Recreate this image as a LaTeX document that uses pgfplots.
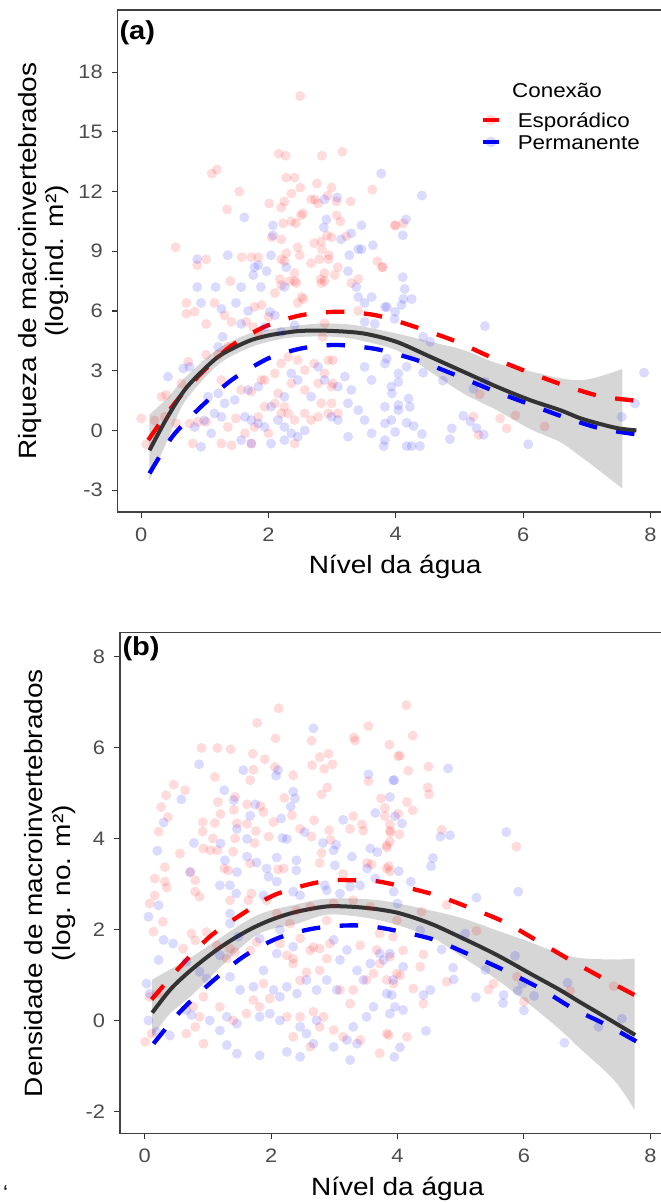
\documentclass[border=0pt]{standalone}
\usepackage{fontspec}
\setmainfont{Liberation Sans}[FakeStretch=1.12]
\usepackage{pgfplots}
\usepackage{pgfplotstable}
\pgfplotsset{compat=1.18}
\usepgfplotslibrary{fillbetween}

% scatter data, panel (a): riqueza
\pgfplotstableread{
x y
2.50 16.8
2.16 13.9
2.27 13.8
2.84 13.8
3.16 14.0
1.11 12.9
1.19 13.1
2.28 12.7
2.41 12.7
2.76 12.4
1.54 12.0
2.36 11.9
2.50 12.2
2.99 12.2
3.63 12.1
2.01 11.4
2.20 11.2
2.25 11.5
2.67 11.6
2.73 11.6
2.78 11.4
2.93 11.8
3.07 11.5
3.29 11.5
1.35 11.1
2.23 10.4
2.36 10.5
2.43 10.4
2.51 10.8
2.54 10.9
3.07 10.8
3.13 10.5
3.98 10.3
2.05 9.7
2.20 9.6
2.92 9.8
2.99 9.7
3.22 9.75
0.54 9.2
1.02 8.6
0.88 8.3
1.58 8.7
1.73 8.7
1.84 8.7
2.46 9.2
2.72 9.4
2.83 9.5
2.28 8.9
2.20 8.6
2.25 8.5
2.49 8.8
2.67 8.4
2.80 8.6
2.94 8.6
2.84 9.1
2.95 8.8
3.09 8.2
3.71 8.5
3.79 8.2
2.88 7.9
2.82 7.6
3.04 7.8
2.41 7.9
2.33 7.5
2.44 7.4
2.18 7.6
1.40 7.5
3.41 7.6
0.71 6.4
0.84 5.96
0.71 5.86
1.15 6.4
1.31 5.78
1.42 5.45
1.02 5.35
1.78 6.2
1.89 6.3
1.65 5.45
1.76 5.2
1.84 4.9
2.00 5.7
2.10 6.9
2.20 7.3
2.41 7.5
2.52 6.7
2.46 6.4
2.55 6.6
2.83 7.4
2.88 7.5
3.30 7.4
3.41 6.0
2.88 5.38
2.85 4.7
1.36 4.2
1.21 3.8
1.02 3.8
0.74 3.45
0.63 2.36
0.32 1.69
0.39 1.78
0.00 0.6
0.08 -0.7
0.21 0.5
0.37 0.68
0.55 0.35
0.76 0.35
0.89 0.43
0.81 -0.66
1.02 0.43
1.26 -0.66
1.42 -0.75
1.36 0.17
1.49 0.6
1.63 -0.15
1.84 0.68
1.94 1.19
2.10 1.36
2.20 0.85
2.25 1.19
2.15 1.86
2.31 0.85
2.41 0.52
2.57 0.85
2.67 0.52
2.78 0.68
2.94 0.85
2.83 1.36
2.99 1.36
3.09 0.85
1.94 2.53
2.10 2.86
2.20 3.36
2.31 3.69
2.46 3.53
2.57 3.03
2.72 3.36
2.88 2.86
2.41 -0.66
1.73 -0.66
1.26 2.53
1.78 0.17
2.00 -0.15
2.36 2.36
2.57 2.03
2.78 2.36
2.99 2.2
1.57 2.03
1.73 1.95
1.89 2.53
2.94 3.53
3.01 3.53
3.01 2.36
4.00 10.3
4.12 10.4
3.79 8.2
5.32 1.82
5.22 0.7
5.64 0.6
5.74 0.1
5.88 0.75
6.34 0.2
5.30 -0.23
}\ared

\pgfplotstableread{
x y
3.77 12.9
1.62 10.7
2.88 11.6
3.08 11.7
2.91 10.6
2.87 10.2
2.07 10.3
2.07 9.8
3.46 10.3
3.30 9.9
3.14 9.6
3.64 9.3
3.41 9.1
3.46 9.1
3.27 8.8
0.88 8.6
1.36 8.8
2.04 8.8
1.84 8.3
1.78 8.2
1.97 8.0
1.76 7.8
2.28 8.2
3.25 8.0
0.88 7.2
1.17 7.2
1.57 7.2
1.88 7.2
2.25 7.2
3.38 7.2
0.94 6.4
1.26 6.1
1.49 6.4
1.68 6.0
2.02 5.95
2.10 5.78
1.57 5.35
1.94 5.2
2.20 4.95
2.41 5.28
3.41 6.7
3.51 6.4
3.62 6.7
3.83 6.2
3.98 5.6
3.51 5.45
3.67 5.35
0.42 2.70
0.66 3.11
0.76 3.19
1.28 4.7
1.21 4.2
1.05 1.69
1.21 1.86
1.15 0.85
1.26 0.68
1.31 1.36
1.47 1.53
1.68 2.03
1.84 2.2
1.63 0.68
1.73 0.52
1.84 0.35
1.94 0.17
2.04 1.19
2.15 0.52
2.25 0.17
2.36 -0.15
2.46 -0.32
2.57 0.0
1.73 -0.66
1.57 -0.49
2.04 -0.66
2.25 -0.49
2.25 1.69
2.36 2.86
2.46 2.53
2.67 1.69
2.78 3.19
2.88 2.53
3.09 2.2
3.20 2.7
3.30 2.03
3.51 3.19
3.62 2.53
3.83 3.36
3.93 2.2
4.04 2.86
3.25 1.36
3.41 1.02
3.51 0.52
3.62 -0.15
3.83 -0.49
3.25 -0.32
3.09 0.52
2.99 0.68
3.83 1.19
3.93 0.52
4.04 1.02
0.84 0.17
0.99 0.5
1.10 -0.15
0.94 -0.83
4.41 11.8
4.16 10.6
4.11 9.8
4.11 7.7
4.14 7.1
4.25 6.6
4.12 6.6
3.86 6.2
3.99 5.96
4.09 6.3
5.40 5.24
4.43 4.7
4.54 4.45
3.86 3.6
4.17 3.2
4.43 2.9
4.74 2.5
4.04 2.43
3.94 1.86
4.04 1.27
4.20 1.6
4.22 1.18
3.83 0.35
3.99 -0.08
4.17 0.38
4.28 0.22
4.41 -0.18
3.81 -0.79
4.17 -0.79
4.25 -0.79
4.38 -0.79
4.88 0.1
4.85 -0.44
5.06 0.73
5.17 0.45
5.27 0.11
5.38 -0.22
6.08 -0.7
5.40 2.44
5.22 2.1
7.55 0.68
7.76 1.35
7.90 2.9
}\ablue

% scatter data, panel (b): densidade
\pgfplotstableread{
x y
2.12 6.86
1.78 6.54
2.07 6.20
3.54 6.47
3.31 6.22
3.33 6.15
3.87 6.06
0.90 5.99
1.15 5.99
1.36 5.96
1.71 5.86
1.90 5.74
1.72 5.51
1.67 5.28
2.06 5.57
2.35 5.39
2.64 6.15
2.65 5.61
2.77 5.79
2.91 5.86
2.84 5.53
2.97 5.63
2.89 5.12
2.80 4.97
3.54 5.26
4.01 5.81
1.11 5.35
0.46 5.18
0.64 5.06
0.34 4.95
0.26 4.69
0.37 4.47
1.16 4.80
1.43 4.91
1.41 4.63
1.20 4.54
0.92 4.36
1.11 4.34
1.46 4.33
1.62 4.32
1.76 4.16
1.88 4.58
1.62 4.75
1.83 4.71
0.22 4.15
0.92 4.15
1.08 4.00
1.43 4.00
1.74 3.90
2.04 4.36
2.21 4.89
2.33 4.51
0.56 3.67
0.93 3.78
1.04 3.74
1.15 3.74
1.40 3.71
1.96 4.04
0.32 3.37
0.72 3.26
0.80 3.08
1.26 3.34
1.32 3.30
1.67 3.45
2.11 3.32
2.20 3.34
2.46 4.21
2.68 4.40
2.64 4.04
2.92 4.18
2.94 3.97
2.80 3.68
2.77 3.46
3.30 4.49
3.44 4.31
3.46 4.17
3.25 4.21
3.74 4.88
3.80 4.67
3.88 4.31
3.83 3.80
3.89 4.13
4.01 4.54
3.52 3.46
3.59 3.43
3.83 3.34
3.14 3.22
0.16 3.12
0.32 3.05
0.35 2.92
0.16 2.75
0.08 2.57
0.29 2.17
0.14 1.95
0.80 2.83
0.87 2.72
1.35 2.64
1.69 2.79
1.64 2.64
0.74 1.91
0.80 1.76
0.61 1.58
0.98 1.94
1.14 1.65
1.35 1.58
1.43 1.50
1.30 1.36
1.67 1.54
1.77 1.72
2.14 1.69
2.25 1.43
2.35 1.36
2.46 1.80
2.62 1.54
2.67 1.61
2.77 1.58
2.93 1.69
2.88 1.36
2.77 1.10
2.56 1.06
2.46 0.88
2.35 1.25
1.88 0.81
1.98 0.48
1.72 0.45
1.82 0.30
1.61 0.15
1.40 0.00
1.19 0.30
0.93 0.52
0.77 0.30
0.87 0.08
0.80 -0.14
0.93 -0.51
0.66 -0.29
0.01 -0.47
0.11 -0.29
0.08 0.52
0.22 0.59
2.25 0.08
2.46 0.08
2.67 0.19
2.83 0.08
2.99 -0.21
3.14 -0.36
2.77 -0.14
2.62 -0.58
2.35 -0.36
3.25 0.37
3.09 0.67
3.30 0.67
3.51 0.89
3.62 1.03
3.83 0.89
3.99 1.03
3.72 1.25
3.88 1.40
3.67 1.55
3.41 1.65
3.72 1.91
3.93 1.84
3.99 2.20
3.83 -0.29
3.72 -0.72
3.41 -0.43
2.99 2.57
3.30 2.64
3.57 2.50
2.88 2.20
2.62 2.50
2.09 2.35
2.30 2.13
1.93 2.64
2.40 2.42
4.14 6.93
4.24 6.26
4.04 5.82
4.17 5.49
4.49 5.58
4.48 5.12
4.50 4.97
4.15 4.80
4.24 4.62
3.80 4.49
3.88 4.17
4.03 4.09
3.83 3.85
3.88 3.93
4.70 4.19
5.88 3.82
3.86 3.39
3.88 3.28
4.78 2.54
4.38 2.39
5.25 1.97
4.09 1.54
4.41 1.45
4.36 1.18
4.04 0.99
3.94 0.81
4.25 0.70
4.41 0.37
4.15 -0.36
3.86 -0.32
4.78 0.85
5.52 0.81
5.44 0.68
5.89 0.96
6.00 0.41
6.73 0.65
7.42 0.75
}\bred

\pgfplotstableread{
x y
2.67 6.42
0.86 5.63
1.56 5.50
2.11 5.50
2.08 5.38
1.26 5.06
1.41 4.84
1.75 4.75
0.58 4.86
2.35 5.03
2.31 4.70
2.38 4.88
3.54 5.41
3.93 5.28
3.88 4.91
0.30 4.35
1.67 4.50
2.16 4.44
3.14 4.41
3.65 4.56
3.96 4.49
0.78 3.90
1.20 3.89
0.20 3.73
1.62 3.99
1.46 4.21
2.18 4.01
2.25 3.99
2.53 4.14
3.03 3.86
2.99 3.74
2.82 3.90
1.27 3.52
1.62 3.60
1.77 3.47
2.09 3.58
2.40 3.52
3.01 3.41
3.28 3.60
3.57 3.78
3.68 3.70
0.72 3.26
1.19 2.97
1.46 3.26
1.93 3.34
1.96 3.16
2.09 3.05
2.40 3.30
3.52 3.34
3.65 3.12
1.35 2.97
2.85 2.97
3.25 2.94
3.41 2.97
0.06 2.28
0.22 2.53
0.03 0.81
0.08 0.59
0.06 0.00
0.19 -0.25
0.30 1.77
0.45 1.69
0.22 1.33
1.45 2.79
1.88 2.75
2.35 2.83
2.46 2.75
2.88 2.86
3.09 2.79
1.35 2.35
1.35 2.13
1.48 1.84
1.82 1.80
2.14 1.99
2.35 1.62
2.09 1.47
1.35 0.96
1.51 0.67
1.72 0.74
1.88 1.10
2.04 0.67
2.14 0.52
2.25 0.74
2.41 0.59
2.56 0.89
2.72 0.67
2.88 0.89
3.04 0.67
1.03 0.00
1.19 -0.22
1.30 0.08
1.46 -0.07
1.82 0.08
1.98 0.15
2.14 0.00
2.46 -0.14
2.56 -0.29
2.72 0.00
1.30 -0.54
1.46 -0.73
1.82 -0.77
2.25 -0.69
2.46 -0.80
2.67 -0.51
2.99 -0.58
3.25 -0.87
3.36 -0.51
2.99 1.77
3.09 1.33
3.20 1.55
3.36 1.10
3.46 0.89
3.57 1.25
3.72 1.47
3.83 0.59
3.93 0.89
3.62 0.30
3.51 0.08
3.30 -0.14
3.20 -0.43
0.66 0.23
0.74 0.12
0.98 0.92
0.87 1.07
0.66 1.29
1.19 1.43
0.40 -0.33
4.80 5.54
3.95 5.28
4.07 4.33
4.68 4.04
4.83 4.07
5.72 4.14
4.56 3.57
4.53 3.39
4.02 3.28
3.94 2.83
4.21 3.05
5.91 2.83
5.25 2.70
4.00 2.57
4.36 1.98
4.70 1.56
5.07 1.91
4.88 1.16
4.89 0.90
4.52 0.67
4.41 0.56
4.09 1.18
3.88 1.47
3.78 1.33
3.91 0.56
4.09 0.23
3.96 0.30
3.88 0.15
4.45 -0.23
4.04 -0.59
3.95 -0.80
5.24 0.51
5.39 1.11
5.68 0.56
5.67 0.38
5.86 1.42
5.98 0.81
5.90 0.65
6.16 0.54
6.00 0.22
6.69 0.83
6.64 -0.49
7.18 -0.14
7.55 0.04
}\bblue

\pgfplotsset{
  panel/.style={
    scale only axis, width=555pt,
    axis line style={black!75, line width=1.1pt},
    tick style={black!80, line width=1.1pt},
    major tick length=6pt, tick align=outside,
    xtick pos=bottom, ytick pos=left,
    xtick={0,2,4,6,8}, xticklabels={0,2,4,6,8},
    ticklabel style={font=\fontsize{19.5}{20}\selectfont, text=black!70, inner sep=0pt},
    yticklabel style={anchor=east, xshift=-8.7pt},
    xticklabel style={anchor=north, yshift=-9.3pt},
    every axis x label/.style={at={(axis description cs:0.5,0)}, anchor=base, yshift=-62pt,
      font=\fontsize{25}{27.6}\selectfont},
    every axis y label/.style={rotate=90, anchor=center, align=center,
      font=\fontsize{25}{27.6}\selectfont},
    xlabel={Nível da água},
  },
  pts/.style={only marks, mark=*, mark size=5pt,
    mark options={fill=#1, draw opacity=0, fill opacity=0.14, line width=0pt}, forget plot},
  dsh/.style={#1, line width=4.3pt, dash pattern=on 18.5pt off 19.5pt, smooth, forget plot},
  fit/.style={black!80, line width=4pt, smooth, forget plot},
  key/.style={legend image code/.code={
    \path[fill=#1, fill opacity=0.14, draw opacity=0] (8.3pt,7.3pt) circle (5.5pt);
    \path[draw=#1, line width=4.3pt] (0pt,7.3pt) -- (16.6pt,7.3pt);}},
}

\begin{document}
\begin{tikzpicture}

% ---------- panel (a)
\begin{axis}[panel,
  at={(117.65pt,691pt)}, anchor=south west, height=502pt,
  xmin=-0.37, xmax=8.35, ymin=-4.1, ymax=21.12,
  ytick={-3,0,3,6,9,12,15,18}, yticklabels={-3,0,3,6,9,12,15,18},
  every axis y label/.append style={at={(axis description cs:-0.1336,0.5)}},
  ylabel={Riqueza de macroinvertebrados\\(log.ind. m²)},
  legend style={at={(axis description cs:0.6541,0.7962)}, anchor=north west,
    draw=none, fill=none, inner sep=0pt, outer sep=0pt,
    column sep=16.2pt, row sep=2.5pt, font=\fontsize{20}{22}\selectfont,
    cells={anchor=base west},
    nodes={inner sep=0pt, text height=15pt, text depth=4.5pt}},
]
\addplot[pts=red] table {\ared};
\addplot[pts=blue] table {\ablue};

\addplot[dsh=red] coordinates {(0.11,-0.49) (0.37,0.7) (0.63,1.77) (0.89,2.69) (1.13,3.45)
  (1.36,4.12) (1.65,4.72) (1.94,5.21) (2.23,5.55) (2.52,5.79) (2.83,5.92) (3.14,5.96)
  (3.48,5.88) (3.80,5.70) (4.38,5.12) (4.96,4.45) (5.48,3.70) (6.06,2.95) (6.63,2.28)
  (7.21,1.72) (7.78,1.49)};
\addplot[dsh=blue] coordinates {(0.13,-2.16) (0.33,-1.1) (0.53,-0.15) (0.94,1.19) (1.42,2.53)
  (1.94,3.53) (2.23,3.88) (2.52,4.12) (2.80,4.25) (3.09,4.29) (3.43,4.2) (3.76,4.04)
  (4.33,3.53) (4.90,2.83) (5.48,2.06) (6.06,1.36) (6.63,0.68) (7.21,0.10) (7.76,-0.19)};

\addplot[name path=aup, draw=none, smooth, forget plot] coordinates {(0.13,0.8) (0.42,1.65)
  (0.68,2.62) (1.21,4.1) (1.73,4.89) (2.25,5.18) (2.78,5.36) (3.30,5.31) (4.01,4.87)
  (4.54,4.45) (5.06,4.04) (5.59,3.37) (6.11,2.97) (6.58,2.62) (6.89,2.52) (7.16,2.67)
  (7.56,3.08)};
\addplot[name path=alo, draw=none, smooth, forget plot] coordinates {(0.13,-2.5) (0.42,-0.45)
  (0.68,1.42) (1.21,3.3) (1.73,4.19) (2.25,4.62) (2.78,4.72) (3.30,4.61) (4.01,4.03)
  (4.54,2.95) (5.06,1.86) (5.59,1.01) (6.11,0.07) (6.58,-0.58) (6.89,-1.28) (7.16,-1.93)
  (7.56,-2.92)};
\addplot[fill=black!40, fill opacity=0.4, draw=none, forget plot] fill between[of=aup and alo];

\addplot[fit] coordinates {(0.13,-1.0) (0.40,0.6) (0.68,2.02) (0.95,2.95) (1.21,3.7)
  (1.47,4.17) (1.73,4.54) (2.00,4.77) (2.25,4.90) (2.52,5.0) (2.97,5.0) (3.49,4.87)
  (4.01,4.45) (4.54,3.70) (5.06,2.95) (5.59,2.19) (6.11,1.52) (6.58,1.02) (6.89,0.62)
  (7.20,0.33) (7.50,0.1) (7.78,0.0)};

\addlegendimage{key=red}
\addlegendentry{Esporádico}
\addlegendimage{key=blue}
\addlegendentry{Permanente}
\end{axis}

% ---------- panel (b)
\begin{axis}[panel,
  at={(120pt,69.7pt)}, anchor=south west, height=500.5pt,
  xmin=-0.39, xmax=8.39, ymin=-2.48, ymax=8.52,
  ytick={-2,0,2,4,6,8}, yticklabels={-2,0,2,4,6,8},
  every axis y label/.append style={at={(axis description cs:-0.126,0.5)}},
  ylabel={Densidade de macroinvertebrados\\(log. no. m²)},
]
\addplot[pts=red] table {\bred};
\addplot[pts=blue] table {\bblue};

\addplot[dsh=red] coordinates {(0.11,0.46) (0.56,1.18) (1.03,1.84) (1.51,2.31) (2.04,2.75)
  (2.62,3.00) (3.00,3.08) (3.30,3.08) (3.72,3.05) (4.52,2.79) (5.10,2.50) (5.68,2.17)
  (6.20,1.76) (6.73,1.33) (7.26,0.92) (7.79,0.53)};
\addplot[dsh=blue] coordinates {(0.14,-0.51) (0.56,0.19) (1.03,0.81) (1.56,1.40) (2.09,1.80)
  (2.67,2.02) (3.25,2.09) (3.72,2.04) (4.52,1.80) (5.10,1.47) (5.68,1.11) (6.26,0.70)
  (6.78,0.26) (7.31,-0.10) (7.79,-0.47)};

\addplot[name path=bup, draw=none, smooth, forget plot] coordinates {(0.12,0.90) (0.40,1.12)
  (0.75,1.40) (1.73,2.28) (2.40,2.55) (2.93,2.68) (3.72,2.64) (4.52,2.42) (5.04,2.24)
  (5.57,1.98) (6.10,1.72) (6.57,1.47) (6.89,1.37) (7.42,1.34) (7.75,1.36)};
\addplot[name path=blo, draw=none, smooth, forget plot] coordinates {(0.12,-0.36) (0.40,0.15)
  (0.75,0.56) (1.73,1.84) (2.40,2.12) (2.93,2.33) (3.72,2.20) (4.52,1.84) (5.04,1.38)
  (5.57,0.90) (6.10,0.34) (6.57,-0.20) (6.89,-0.62) (7.42,-1.30) (7.75,-1.96)};
\addplot[fill=black!40, fill opacity=0.4, draw=none, forget plot] fill between[of=bup and blo];

\addplot[fit] coordinates {(0.12,0.17) (0.40,0.67) (0.66,1.02) (0.93,1.33) (1.20,1.61)
  (1.46,1.84) (1.72,2.04) (1.98,2.20) (2.25,2.33) (2.51,2.42) (2.93,2.51) (3.46,2.48)
  (3.99,2.37) (4.52,2.13) (5.04,1.80) (5.57,1.44) (6.10,1.03) (6.57,0.67) (6.89,0.40)
  (7.33,0.04) (7.76,-0.32)};
\end{axis}

% panel tags, legend title
\node[anchor=north west, inner sep=0pt, font=\fontsize{26}{28}\selectfont\bfseries]
  at (119.3pt,1183pt) {(a)};
\node[anchor=north west, inner sep=0pt, font=\fontsize{26}{28}\selectfont\bfseries]
  at (122.3pt,566.3pt) {(b)};
\node[anchor=base west, inner sep=0pt, font=\fontsize{20}{22}\selectfont]
  at (3pt,4pt) {‘};
\node[anchor=base west, inner sep=0pt, font=\fontsize{20}{22}\selectfont]
  at (512pt,1105.7pt) {Conexão};

\pgfresetboundingbox
\path[use as bounding box] (0,0) rectangle (661pt,1203pt);
\end{tikzpicture}
\end{document}
